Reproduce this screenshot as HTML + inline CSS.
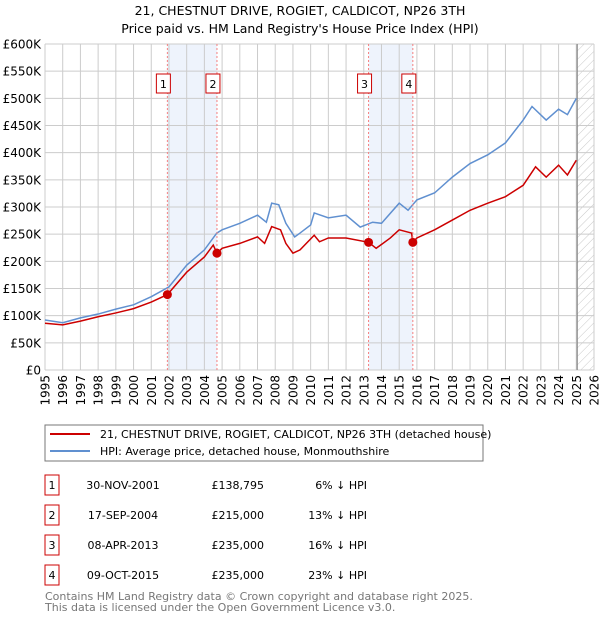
<!DOCTYPE html>
<html><head><meta charset="utf-8"><style>
body{margin:0;background:#fff;font-family:"DejaVu Sans","Liberation Sans",sans-serif;}
#wrap{position:relative;width:600px;height:620px;overflow:hidden;}
svg text{font-family:"DejaVu Sans","Liberation Sans",sans-serif;}
</style></head><body><div id="wrap">
<svg id="chart" width="600" height="620">
<text x="300" y="15" text-anchor="middle" font-size="12.5">21, CHESTNUT DRIVE, ROGIET, CALDICOT, NP26 3TH</text>
<text x="300" y="33" text-anchor="middle" font-size="12.5">Price paid vs. HM Land Registry's House Price Index (HPI)</text>
<defs><pattern id="hatch" width="6" height="6" patternUnits="userSpaceOnUse" patternTransform="rotate(45)"><line x1="0" y1="0" x2="0" y2="6" stroke="#bbb" stroke-width="0.8"/></pattern></defs>
<g id="grid"></g><g id="series"></g>
<rect x="45" y="425" width="438" height="36" fill="#fff" stroke="#777"/>
<line x1="50" y1="434" x2="90" y2="434" stroke="#cc0000" stroke-width="2"/>
<text x="100" y="438" font-size="11">21, CHESTNUT DRIVE, ROGIET, CALDICOT, NP26 3TH (detached house)</text>
<line x1="50" y1="451" x2="90" y2="451" stroke="#6090d0" stroke-width="2"/>
<text x="100" y="455" font-size="11">HPI: Average price, detached house, Monmouthshire</text>
<g id="table" font-size="11"></g>
<text x="45" y="600" font-size="11" fill="#777">Contains HM Land Registry data © Crown copyright and database right 2025.</text>
<text x="45" y="611" font-size="11" fill="#777">This data is licensed under the Open Government Licence v3.0.</text>
</svg></div>
<script>
const hpiYears=[1995,1996,1997,1998,1999,2000,2001,2002,2003,2004,2004.7,2005,2006,2007,2007.5,2007.8,2008.2,2008.6,2009.1,2009.4,2010,2010.2,2011,2012,2012.8,2013.5,2014,2015,2015.5,2016,2017,2018,2019,2020,2021,2022,2022.5,2023.3,2024,2024.5,2025];
const hpiValues=[92,87,96,103,112,120,135,153,193,221,252,258,270,285,272,307,304,270,245,252,267,289,280,285,263,272,270,307,294,313,326,355,380,396,418,460,485,460,480,470,500];
const redYears=[1995,1996,1997,1998,1999,2000,2001,2001.91,2003,2004,2004.5,2004.71,2005,2006,2007,2007.4,2007.8,2008.3,2008.6,2009,2009.4,2010.2,2010.5,2011,2012,2013.27,2013.7,2014.5,2015,2015.7,2015.77,2016,2017,2018,2019,2020,2021,2022,2022.7,2023.3,2024,2024.5,2025];
const redValues=[86,83,90,98,105,113,125,138.8,180,208,230,215,224,233,245,233,264,258,233,215,221,248,236,243,243,235,224,243,258,252,235,243,258,276,294,307,319,340,374,355,377,359,386];
const saleNums=["1","2","3","4"];
const saleYears=[2001.91,2004.71,2013.27,2015.77];
const saleValues=[138.795,215,235,235];
const saleDates=["30-NOV-2001","17-SEP-2004","08-APR-2013","09-OCT-2015"];
const salePrices=["£138,795","£215,000","£235,000","£235,000"];
const salePcts=["6% ↓ HPI","13% ↓ HPI","16% ↓ HPI","23% ↓ HPI"];
const yTicks=[0,50,100,150,200,250,300,350,400,450,500,550,600];
const yTickLabels=["£0","£50K","£100K","£150K","£200K","£250K","£300K","£350K","£400K","£450K","£500K","£550K","£600K"];
const xTicks=[1995,1996,1997,1998,1999,2000,2001,2002,2003,2004,2005,2006,2007,2008,2009,2010,2011,2012,2013,2014,2015,2016,2017,2018,2019,2020,2021,2022,2023,2024,2025,2026];

const NS="http://www.w3.org/2000/svg";
const X0=45,X1=594,Y0=370,Y1=44;
const xs=y=>X0+(y-1995)/(2026-1995)*(X1-X0);
const ys=v=>Y0-v/600*(Y0-Y1);
function mk(t,a,p){const e=document.createElementNS(NS,t);for(const k in a)e.setAttribute(k,a[k]);p.appendChild(e);return e;}
const g=document.getElementById('grid'),s=document.getElementById('series'),tb=document.getElementById('table');
for(let i=0;i<4;i+=2){const r=mk('rect',{x:xs(saleYears[i]),y:Y1,width:xs(saleYears[i+1])-xs(saleYears[i]),height:Y0-Y1,fill:'#eef3fc'},g);

}
const hr=mk('rect',{x:xs(2025.05),y:Y1,width:X1-xs(2025.05),height:Y0-Y1,fill:'url(#hatch)'},g);


yTicks.forEach((v,i)=>{mk('line',{x1:X0,x2:X1,y1:ys(v),y2:ys(v),stroke:'#ccc'},g);
const t=mk('text',{x:X0-4,y:ys(v)+4.5,'text-anchor':'end','font-size':'12'},g);t.textContent=yTickLabels[i];

});
xTicks.forEach(y=>{mk('line',{x1:xs(y),x2:xs(y),y1:Y1,y2:Y0,stroke:'#ccc'},g);
const t=mk('text',{transform:`translate(${xs(y)+4.5},${Y0+5}) rotate(-90)`,'text-anchor':'end','font-size':'12'},g);t.textContent=y;

});
const vl=mk('line',{x1:xs(2025.05),x2:xs(2025.05),y1:Y1,y2:Y0,stroke:'#888','stroke-width':1.2},g);


const pa=mk('path',{d:hpiYears.map((y,i)=>(i?'L':'M')+xs(y)+','+ys(hpiValues[i])).join(''),fill:'none',stroke:'#6090d0','stroke-width':1.5},s);


const pb=mk('path',{d:redYears.map((y,i)=>(i?'L':'M')+xs(y)+','+ys(redValues[i])).join(''),fill:'none',stroke:'#cc0000','stroke-width':1.5},s);


saleYears.forEach((y,i)=>{
const l=mk('line',{x1:xs(y),x2:xs(y),y1:Y1,y2:Y0,stroke:'#f58080','stroke-dasharray':'2,2'},s);


const c=mk('circle',{cx:xs(y),cy:ys(saleValues[i]),r:4.5,fill:'#cc0000'},s);


const b=mk('rect',{x:xs(y)-11,y:74,width:14,height:19,fill:'#fff',stroke:'#cc0000'},s);


const t=mk('text',{x:xs(y)-4,y:88,'text-anchor':'middle','font-size':'11'},s);t.textContent=saleNums[i];


const ry=475+i*30;
const rb=mk('rect',{x:45,y:ry,width:14,height:20,fill:'#fff',stroke:'#cc0000'},tb);


const cells=[[52,'middle',saleNums[i]],[123,'middle',saleDates[i]],[264,'end',salePrices[i]],[367,'end',salePcts[i]]];
cells.forEach(c=>{const tt=mk('text',{x:c[0],y:ry+14,'text-anchor':c[1]},tb);tt.textContent=c[2];

});
});
</script></body></html>
